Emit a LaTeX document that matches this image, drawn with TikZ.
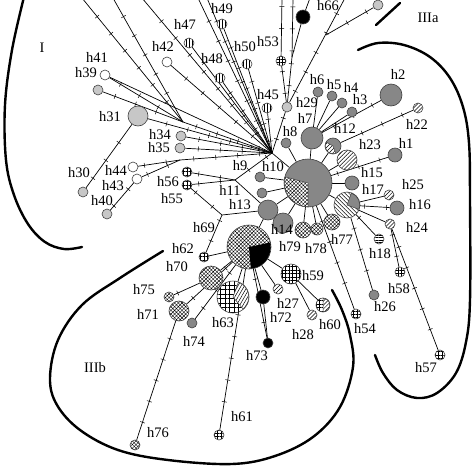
\documentclass[tikz,border=0pt]{standalone}
\usepackage{fontspec}
\setmainfont{Liberation Serif}
\usetikzlibrary{patterns,patterns.meta,decorations.markings,backgrounds}
\begin{document}
\begin{tikzpicture}[x=1pt,y=-1pt,
  hap/.style={circle,draw=black!75,line width=0.6pt,inner sep=0pt,minimum size=#1},
  wh/.style={fill=white},
  lg/.style={fill=black!22},
  dg/.style={fill=black!47},
  bk/.style={fill=black},
  vl/.style={preaction={fill=white},pattern={Lines[angle=90,distance=3pt,line width=0.5pt]}},
  hl/.style={preaction={fill=white},pattern={Lines[angle=0,distance=2.6pt,line width=0.5pt]}},
  st/.style={preaction={fill=white},pattern={Lines[angle=45,distance=2.8pt,line width=0.5pt]}},
  st2/.style={preaction={fill=white},pattern={Lines[angle=-45,distance=2.8pt,line width=0.5pt]}},
  gr/.style={preaction={fill=white},pattern={Hatch[angle=0,distance=3.4pt,line width=0.5pt]}},
  gg/.style={preaction={fill=white},pattern={Hatch[angle=0,distance=4.5pt,line width=0.5pt]}},
  ch/.style={preaction={fill=white},pattern={Hatch[angle=45,distance=2.6pt,line width=0.4pt]}},
  e/.style={line width=0.7pt},
  mut/.style={postaction={decorate,decoration={markings,mark=between positions 0.15 and 0.9 step 22pt with {\draw[line width=0.5pt] (0,-2.5pt) -- (0,2.5pt);}}}},
  region/.style={line width=2.4pt,line cap=round},
  lab/.style={inner sep=0pt,font=\fontsize{14.5}{16}\selectfont}
]
\useasboundingbox (0,0) rectangle (474,474);

% junctions and free ends
\coordinate (H) at (272,153);
\coordinate (J1) at (183,122);
\coordinate (J2) at (180,160);
\coordinate (J9) at (235,180);
\coordinate (J69) at (222,215);
\coordinate (J3) at (292,57);
\coordinate (J4) at (326,35);
\coordinate (T1) at (82,-2);
\coordinate (T2) at (113,-2);
\coordinate (T3) at (142,-2);
\coordinate (T4) at (198,-2);
\coordinate (T5) at (207,-2);
\coordinate (T6) at (282,-2);
\coordinate (T7) at (293,-2);
\coordinate (T8) at (345,-2);
\coordinate (T9) at (310,-2);

% haplotypes
\node[hap=10pt,wh] (h41) at (105,75) {};
\node[hap=10pt,lg] (h39) at (98,90) {};
\node[hap=20pt,lg] (h31) at (138,116) {};
\node[hap=10pt,lg] (h34) at (181,136) {};
\node[hap=10pt,lg] (h35) at (180,148) {};
\node[hap=10pt,lg] (h30) at (83,192) {};
\node[hap=10pt,wh] (h44) at (133,167) {};
\node[hap=10pt,wh] (h43) at (137,179) {};
\node[hap=10pt,lg] (h40) at (107,214) {};
\node[hap=10pt,wh] (h42) at (167,62) {};
\node[hap=10pt,vl] (h47) at (189,43) {};
\node[hap=10pt,vl] (h49) at (222,24) {};
\node[hap=10pt,vl] (h48) at (220,78) {};
\node[hap=10pt,vl] (h50) at (247,64) {};
\node[hap=10pt,vl] (h45) at (267,108) {};
\node[hap=10pt,gr] (h53) at (281,61) {};
\node[hap=14pt,bk] (h66) at (303,17) {};
\node[hap=10pt,lg] (htop) at (378,5) {};
\node[hap=10pt,lg] (h29) at (287,107) {};
\node[hap=10pt,dg] (h6) at (318,92) {};
\node[hap=10pt,dg] (h5) at (332,96) {};
\node[hap=10pt,dg] (h4) at (342,103) {};
\node[hap=10pt,dg] (h3) at (352,112) {};
\node[hap=22pt,dg] (h2) at (391,95) {};
\node[hap=10pt,st] (h22) at (418,108) {};
\node[hap=22pt,dg] (h7) at (312,138) {};
\node[hap=10pt,dg] (h8) at (286,143) {};
\node[hap=16pt,dg] (h12) at (333,146) {};
\node[hap=20pt,st] (h23) at (347,160) {};
\node[hap=14pt,dg] (h1) at (395,155) {};
\node[hap=48pt,dg] (BIG) at (308,183) {};
\node[hap=14pt,dg] (h15) at (352,183) {};
\node[hap=26pt,st2] (h17) at (347,205) {};
\node[hap=10pt,st] (h25) at (389,195) {};
\node[hap=14pt,dg] (h16) at (397,208) {};
\node[hap=10pt,st] (h24) at (390,224) {};
\node[hap=10pt,hl] (h18) at (379,239) {};
\node[hap=10pt,gr] (h58) at (400,272) {};
\node[hap=10pt,gr] (h57) at (440,355) {};
\node[hap=10pt,dg] (h26) at (374,295) {};
\node[hap=10pt,gr] (h54) at (356,314) {};
\node[hap=16pt,ch] (h77) at (332,222) {};
\node[hap=12pt,ch] (h78) at (317,229) {};
\node[hap=16pt,ch] (h79) at (303,230) {};
\node[hap=20pt,dg] (h14) at (283,223) {};
\node[hap=20pt,dg] (h13) at (268,210) {};
\node[hap=10pt,dg] (h11) at (262,193) {};
\node[hap=10pt,dg] (h10) at (260,177) {};
\node[hap=10pt,gr] (h56) at (187,172) {};
\node[hap=10pt,gr] (h55) at (187,185) {};
\node[hap=44pt,ch] (BIG2) at (249,247) {};
\node[hap=10pt,gr] (h62) at (204,257) {};
\node[hap=24pt,ch] (h70) at (211,278) {};
\node[hap=10pt,ch] (h75) at (169,297) {};
\node[hap=20pt,ch] (h71) at (179,311) {};
\node[hap=10pt,dg] (h74) at (192,323) {};
\node[hap=32pt,gg] (h63) at (233,297) {};
\node[hap=20pt,gr] (h59) at (291,274) {};
\node[hap=10pt,st] (h27) at (278,289) {};
\node[hap=14pt,bk] (h72) at (263,297) {};
\node[hap=10pt,bk] (h73) at (268,343) {};
\node[hap=10pt,st] (h28) at (312,315) {};
\node[hap=14pt,gr] (h60) at (323,305) {};
\node[hap=10pt,gr] (h61) at (219,435) {};
\node[hap=10pt,ch] (h76) at (135,445) {};

% sectors of mixed haplotypes
\path[draw=black!75,line width=0.5pt,preaction={fill=white},pattern={Hatch[angle=45,distance=2.6pt,line width=0.4pt]}]
  (BIG.center) -- ++(-165:23.7) arc[start angle=-165,end angle=-270,radius=23.7] -- cycle;
\fill[black] (BIG2.center) -- ++(-12:21.7) arc[start angle=-12,end angle=85,radius=21.7] -- cycle;
\path[draw=black!75,line width=0.5pt,fill=black!47] (h17.center) -- ++(-70:12.7) arc[start angle=-70,end angle=20,radius=12.7] -- cycle;
\path[draw=black!75,line width=0.5pt,preaction={fill=white},pattern={Lines[angle=45,distance=2.8pt,line width=0.5pt]}]
  (h12.center) -- ++(-150:7.7) arc[start angle=-150,end angle=-290,radius=7.7] -- cycle;
\path[draw=black!75,line width=0.5pt,preaction={fill=white},pattern={Lines[angle=60,distance=2.8pt,line width=0.5pt]}]
  (h63.center) -- ++(-70:15.7) arc[start angle=-70,end angle=50,radius=15.7] -- cycle;
\path[draw=black!75,line width=0.5pt,preaction={fill=white},pattern={Lines[angle=45,distance=2.8pt,line width=0.5pt]}]
  (h60.center) -- ++(-90:6.7) arc[start angle=-90,end angle=90,radius=6.7] -- cycle;

% connectors
\begin{scope}[on background layer]
\draw[e,mut] (T1) -- (J1);
\draw[e,mut] (T2) -- (J1);
\draw[e,mut] (h41) -- (J1);
\draw[e,mut] (h39) -- (J1);
\draw[e,mut] (J1) -- (H);
\draw[e] (h41) -- (H);
\draw[e,mut] (T3) -- (H);
\draw[e,mut] (T4) -- (H);
\draw[e,mut] (T5) -- (H);
\draw[e,mut] (h42) -- (H);
\draw[e,mut] (h47) -- (H);
\draw[e,mut] (h49) -- (H);
\draw[e,mut] (h48) -- (H);
\draw[e,mut] (h50) -- (H);
\draw[e,mut] (h45) -- (H);
\draw[e,mut] (h31) -- (H);
\draw[e,mut] (h34) -- (H);
\draw[e,mut] (h35) -- (H);
\draw[e,mut] (h30) -- (h31);
\draw[e,mut] (h44) -- (J2);
\draw[e,mut] (h43) -- (J2);
\draw[e,mut] (J2) -- (H);
\draw[e,mut] (h40) -- (h43);
\draw[e,mut] (H) -- (J9);
\draw[e,mut] (h56) -- (J9);
\draw[e,mut] (h55) -- (J9);
\draw[e] (J9) -- (h13);
\draw[e,mut] (h55) -- (J69);
\draw[e] (J69) -- (h13);
\draw[e,mut] (J69) -- (h62);
\draw[e] (H) -- (BIG);
\draw[e] (h8) -- (BIG);
\draw[e] (h10) -- (BIG);
\draw[e] (h11) -- (BIG);
\draw[e] (h13) -- (BIG);
\draw[e] (h14) -- (BIG);
\draw[e] (h79) -- (BIG);
\draw[e] (h78) -- (BIG);
\draw[e] (h77) -- (BIG);
\draw[e] (h7) -- (BIG);
\draw[e] (h12) -- (BIG);
\draw[e] (h23) -- (BIG);
\draw[e,mut] (h1) -- (BIG);
\draw[e] (h15) -- (BIG);
\draw[e] (h17) -- (BIG);
\draw[e,mut] (BIG) -- (h54);
\draw[e] (h6) -- (h7);
\draw[e] (h5) -- (h7);
\draw[e] (h4) -- (h7);
\draw[e] (h3) -- (h7);
\draw[e,mut] (h2) -- (h7);
\draw[e,mut] (h22) -- (h12);
\draw[e,mut] (h29) -- (H);
\draw[e,mut] (T6) -- (h53);
\draw[e,mut] (h53) -- (h29);
\draw[e] (T9) -- (h66);
\draw[e,mut] (T7) -- (J3);
\draw[e] (h66) -- (J3);
\draw[e,mut] (J3) -- (h29);
\draw[e,mut] (T8) -- (h29);
\draw[e,mut] (htop) -- (J4);
\draw[e] (h17) -- (h25);
\draw[e,mut] (h17) -- (h16);
\draw[e] (h17) -- (h24);
\draw[e,mut] (h17) -- (h18);
\draw[e,mut] (h17) -- (h26);
\draw[e,mut] (h24) -- (h58);
\draw[e,mut] (h24) -- (h57);
\draw[e] (h13) -- (BIG2);
\draw[e] (h62) -- (BIG2);
\draw[e] (BIG2) -- (h70);
\draw[e,mut] (h75) -- (h70);
\draw[e,mut] (BIG2) -- (h71);
\draw[e,mut] (BIG2) -- (h74);
\draw[e] (BIG2) -- (h63);
\draw[e] (BIG2) -- (h59);
\draw[e] (BIG2) -- (h27);
\draw[e] (BIG2) -- (h72);
\draw[e] (h72) -- (h73);
\draw[e,mut] (BIG2) -- (h73);
\draw[e,mut] (BIG2) -- (h61);
\draw[e,mut] (h71) -- (h76);
\draw[e] (h59) -- (h28);
\draw[e] (h59) -- (h60);
\end{scope}

% region outlines
\draw[region] plot[smooth,tension=0.6] coordinates {(24,-3) (12,50) (5,105) (6,160) (14,195) (28,224) (45,242) (64,249) (82,247)};
\draw[region] plot[smooth,tension=0.6] coordinates {(163,251) (120,278) (82,305) (58,340) (50,378) (57,405) (80,430) (118,450) (168,460) (232,464) (275,456) (313,437) (340,407) (353,367) (350,335) (342,310) (332,290)};
\draw[region] plot[smooth,tension=0.6] coordinates {(358,50) (378,43) (404,45) (430,57) (450,78) (463,107) (469,143) (470,200) (470,300) (466,342) (456,373) (437,393) (417,398) (397,390) (383,373) (375,355)};
\draw[region] plot[smooth,tension=0.6] coordinates {(376,25) (388,14) (400,3)};

% labels
\node[lab] (lI) at (42,48) {I};
\node[lab] (lIIIa) at (428,18) {IIIa};
\node[lab] (lIIIb) at (95,368) {IIIb};
\node[lab] (l41) at (97,57) {h41};
\node[lab] (l39) at (86,73) {h39};
\node[lab] (l31) at (110,117) {h31};
\node[lab] (l34) at (160,135) {h34};
\node[lab] (l35) at (159,148) {h35};
\node[lab] (l42) at (163,46) {h42};
\node[lab] (l47) at (185,24) {h47};
\node[lab] (l49) at (222,9) {h49};
\node[lab] (l48) at (212,59) {h48};
\node[lab] (l50) at (245,47) {h50};
\node[lab] (l53) at (268,42) {h53};
\node[lab] (l66) at (328,6) {h66};
\node[lab] (l45) at (268,95) {h45};
\node[lab] (l29) at (307,103) {h29};
\node[lab] (l6) at (317,80) {h6};
\node[lab] (l5) at (334,85) {h5};
\node[lab] (l4) at (351,87) {h4};
\node[lab] (l3) at (360,100) {h3};
\node[lab] (l2) at (398,74) {h2};
\node[lab] (l22) at (417,124) {h22};
\node[lab] (l7) at (305,118) {h7};
\node[lab] (l8) at (290,132) {h8};
\node[lab] (l12) at (345,128) {h12};
\node[lab] (l23) at (370,145) {h23};
\node[lab] (l1) at (406,143) {h1};
\node[lab] (l15) at (372,173) {h15};
\node[lab] (l17) at (373,189) {h17};
\node[lab] (l25) at (413,185) {h25};
\node[lab] (l16) at (420,205) {h16};
\node[lab] (l24) at (417,227) {h24};
\node[lab] (l18) at (380,254) {h18};
\node[lab] (l77) at (342,239) {h77};
\node[lab] (l78) at (316,249) {h78};
\node[lab] (l79) at (290,247) {h79};
\node[lab] (l14) at (282,229) {h14};
\node[lab] (l13) at (240,205) {h13};
\node[lab] (l11) at (230,190) {h11};
\node[lab] (l10) at (273,167) {h10};
\node[lab] (l9) at (240,166) {h9};
\node[lab] (l30) at (79,173) {h30};
\node[lab] (l44) at (116,170) {h44};
\node[lab] (l43) at (113,185.5) {h43};
\node[lab] (l40) at (102,201) {h40};
\node[lab] (l56) at (168,182) {h56};
\node[lab] (l55) at (172,199) {h55};
\node[lab] (l69) at (204,228) {h69};
\node[lab] (l62) at (183,249) {h62};
\node[lab] (l70) at (177,267) {h70};
\node[lab] (l75) at (144,290) {h75};
\node[lab] (l71) at (148,314) {h71};
\node[lab] (l74) at (194,341) {h74};
\node[lab] (l63) at (223,323) {h63};
\node[lab] (l59) at (313,276) {h59};
\node[lab] (l27) at (288,303) {h27};
\node[lab] (l72) at (281,317) {h72};
\node[lab] (l73) at (257,356) {h73};
\node[lab] (l28) at (303,335) {h28};
\node[lab] (l60) at (330,325) {h60};
\node[lab] (l54) at (365,329) {h54};
\node[lab] (l26) at (385,307) {h26};
\node[lab] (l58) at (399,289) {h58};
\node[lab] (l57) at (426,368) {h57};
\node[lab] (l61) at (242,417) {h61};
\node[lab] (l76) at (158,433) {h76};
\end{tikzpicture}
\end{document}
